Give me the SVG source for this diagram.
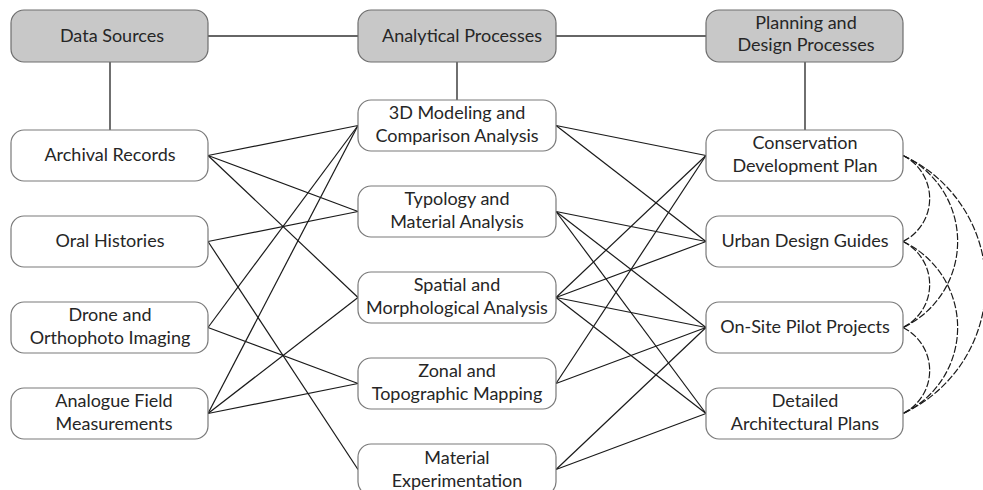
<svg xmlns="http://www.w3.org/2000/svg" width="983" height="490" viewBox="0 0 983 490">
<style>
.box{fill:#ffffff;stroke:#7a7a7a;stroke-width:1.2}
.hdr{fill:#c8c8c8;stroke:#6e6e6e;stroke-width:1.2}
.t{font-family:Lato,"Open Sans","Liberation Sans",sans-serif;font-size:18px;fill:#262626;text-anchor:middle}
.ln{stroke:#1a1a1a;stroke-width:1.2;fill:none}
.hl{stroke:#333;stroke-width:1.4;fill:none}
.ds{stroke:#1a1a1a;stroke-width:1.2;fill:none;stroke-dasharray:7 2}
</style>
<rect width="983" height="490" fill="#ffffff"/>
<g id="connectors">
<line class="hl" x1="208" y1="36" x2="358" y2="36"/>
<line class="hl" x1="556" y1="36" x2="706" y2="36"/>
<line class="hl" x1="110" y1="62" x2="110" y2="130"/>
<line class="hl" x1="457" y1="62" x2="457" y2="100"/>
<line class="hl" x1="805" y1="62" x2="805" y2="130"/>
<line class="ln" x1="208" y1="155.5" x2="358" y2="125.5"/>
<line class="ln" x1="208" y1="155.5" x2="358" y2="211.5"/>
<line class="ln" x1="208" y1="155.5" x2="358" y2="297.5"/>
<line class="ln" x1="208" y1="241.5" x2="358" y2="211.5"/>
<line class="ln" x1="208" y1="241.5" x2="358" y2="469.5"/>
<line class="ln" x1="208" y1="327.5" x2="358" y2="125.5"/>
<line class="ln" x1="208" y1="327.5" x2="358" y2="383.5"/>
<line class="ln" x1="208" y1="413.5" x2="358" y2="125.5"/>
<line class="ln" x1="208" y1="413.5" x2="358" y2="297.5"/>
<line class="ln" x1="208" y1="413.5" x2="358" y2="383.5"/>
<line class="ln" x1="556" y1="125.5" x2="706" y2="155.5"/>
<line class="ln" x1="556" y1="125.5" x2="706" y2="241.5"/>
<line class="ln" x1="556" y1="211.5" x2="706" y2="241.5"/>
<line class="ln" x1="556" y1="211.5" x2="706" y2="327.5"/>
<line class="ln" x1="556" y1="211.5" x2="706" y2="413.5"/>
<line class="ln" x1="556" y1="297.5" x2="706" y2="155.5"/>
<line class="ln" x1="556" y1="297.5" x2="706" y2="241.5"/>
<line class="ln" x1="556" y1="297.5" x2="706" y2="327.5"/>
<line class="ln" x1="556" y1="297.5" x2="706" y2="413.5"/>
<line class="ln" x1="556" y1="383.5" x2="706" y2="155.5"/>
<line class="ln" x1="556" y1="383.5" x2="706" y2="327.5"/>
<line class="ln" x1="556" y1="469.5" x2="706" y2="327.5"/>
<line class="ln" x1="556" y1="469.5" x2="706" y2="413.5"/>
<path class="ds" d="M903 155.5 A48 48 0 0 1 903 241.5"/>
<path class="ds" d="M903 155.5 A95 95 0 0 1 903 327.5"/>
<path class="ds" d="M903 155.5 A142 142 0 0 1 903 413.5"/>
<path class="ds" d="M903 241.5 A48 48 0 0 1 903 327.5"/>
<path class="ds" d="M903 241.5 A95 95 0 0 1 903 413.5"/>
<path class="ds" d="M903 327.5 A48 48 0 0 1 903 413.5"/>
</g>
<g id="h-data"><rect class="hdr" x="11" y="10" width="197" height="52" rx="13"/><text class="t" x="112" y="42">Data Sources</text></g>
<g id="h-analytical"><rect class="hdr" x="358" y="10" width="198" height="52" rx="13"/><text class="t" x="462" y="42">Analytical Processes</text></g>
<g id="h-planning"><rect class="hdr" x="706" y="10" width="197" height="52" rx="13"/><text class="t" x="806" y="29">Planning and</text><text class="t" x="806" y="51">Design Processes</text></g>
<g id="archival"><rect class="box" x="11" y="130" width="197" height="51" rx="13"/><text class="t" x="110" y="161">Archival Records</text></g>
<g id="oral"><rect class="box" x="11" y="216" width="197" height="51" rx="13"/><text class="t" x="110" y="247">Oral Histories</text></g>
<g id="drone"><rect class="box" x="11" y="302" width="197" height="51" rx="13"/><text class="t" x="110" y="321">Drone and</text><text class="t" x="110" y="344">Orthophoto Imaging</text></g>
<g id="analogue"><rect class="box" x="11" y="388" width="197" height="51" rx="13"/><text class="t" x="114" y="407">Analogue Field</text><text class="t" x="114" y="430">Measurements</text></g>
<g id="modeling"><rect class="box" x="358" y="100" width="198" height="51" rx="13"/><text class="t" x="457" y="119">3D Modeling and</text><text class="t" x="457" y="142">Comparison Analysis</text></g>
<g id="typology"><rect class="box" x="358" y="186" width="198" height="51" rx="13"/><text class="t" x="457" y="205">Typology and</text><text class="t" x="457" y="228">Material Analysis</text></g>
<g id="spatial"><rect class="box" x="358" y="272" width="198" height="51" rx="13"/><text class="t" x="457" y="291">Spatial and</text><text class="t" x="457" y="314">Morphological Analysis</text></g>
<g id="zonal"><rect class="box" x="358" y="358" width="198" height="51" rx="13"/><text class="t" x="457" y="377">Zonal and</text><text class="t" x="457" y="400">Topographic Mapping</text></g>
<g id="material"><rect class="box" x="358" y="444" width="198" height="51" rx="13"/><text class="t" x="457" y="464">Material</text><text class="t" x="457" y="487">Experimentation</text></g>
<g id="conservation"><rect class="box" x="706" y="130" width="197" height="51" rx="13"/><text class="t" x="805" y="149">Conservation</text><text class="t" x="805" y="172">Development Plan</text></g>
<g id="urban"><rect class="box" x="706" y="216" width="197" height="51" rx="13"/><text class="t" x="805" y="247">Urban Design Guides</text></g>
<g id="onsite"><rect class="box" x="706" y="302" width="197" height="51" rx="13"/><text class="t" x="805" y="333">On-Site Pilot Projects</text></g>
<g id="detailed"><rect class="box" x="706" y="388" width="197" height="51" rx="13"/><text class="t" x="805" y="407">Detailed</text><text class="t" x="805" y="430">Architectural Plans</text></g>
</svg>
